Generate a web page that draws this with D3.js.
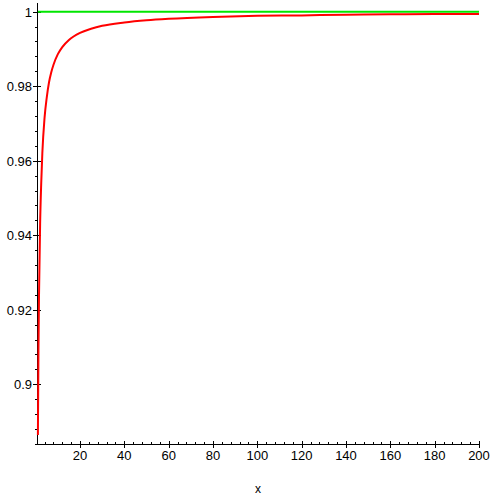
<!DOCTYPE html>
<html>
<head>
<meta charset="utf-8">
<script src="https://cdn.jsdelivr.net/npm/d3@7"></script>
<style>
  body { margin: 0; background: #fff; }
  svg { display: block; }
  text { font-family: "Liberation Sans", Arial, sans-serif; fill: #000; }
</style>
</head>
<body>
<div id="chart"></div>
<script>
// values
const curveX = [1, 1.25, 1.5, 2, 2.5, 3, 4, 5, 6, 7, 8, 10, 12, 15, 20, 25, 30, 40, 50, 60, 80, 100, 120, 140, 160, 180, 200];
const curveY = [0.8864, 0.909, 0.924, 0.943, 0.954, 0.962, 0.9715, 0.977, 0.981, 0.9837, 0.9857, 0.9886, 0.9905, 0.9924, 0.9943,
                0.9954, 0.9962, 0.9971, 0.9977, 0.9981, 0.9986, 0.9989, 0.9990, 0.9992, 0.9993, 0.9994, 0.9994];
const limitX = [1, 200];
const limitY = [1, 1];
const xTicks = [20, 40, 60, 80, 100, 120, 140, 160, 180, 200];
const yTicks = [0.9, 0.92, 0.94, 0.96, 0.98, 1];
const xLabel = "x";

const width = 497, height = 497;

const svg = d3.select("#chart").append("svg")
    .attr("width", width)
    .attr("height", height);

const x = d3.scaleLinear().domain([1, 200]).range([37.9, 479]);
const y = d3.scaleLinear().domain([0.88379, 1.00233]).range([444.7, 3]);

// minor ticks
const xMinor = d3.range(4, 201, 4).filter(v => v % 20 !== 0);
const yMinor = d3.range(0, 30).map(i => +(0.884 + i * 0.004).toFixed(3))
    .filter(v => v <= 1.002 && Math.abs(v * 50 - Math.round(v * 50)) > 1e-6);

const axisG = svg.append("g").attr("stroke", "#000").attr("stroke-width", 1).attr("shape-rendering", "crispEdges");

// axis lines
axisG.append("line")
    .attr("x1", x(1)).attr("x2", x(200))
    .attr("y1", 444.5).attr("y2", 444.5);
axisG.append("line")
    .attr("x1", 37.5).attr("x2", 37.5)
    .attr("y1", 3).attr("y2", 444.5);

// x ticks
axisG.selectAll(".xmaj").data(xTicks).enter().append("line")
    .attr("x1", d => Math.round(x(d)) + 0.5).attr("x2", d => Math.round(x(d)) + 0.5)
    .attr("y1", 440.5).attr("y2", 447.5);
axisG.selectAll(".xmin").data(xMinor).enter().append("line")
    .attr("x1", d => Math.round(x(d)) + 0.5).attr("x2", d => Math.round(x(d)) + 0.5)
    .attr("y1", 442).attr("y2", 444.5);

// y ticks
axisG.selectAll(".ymaj").data(yTicks).enter().append("line")
    .attr("x1", 33).attr("x2", 41)
    .attr("y1", d => Math.round(y(d)) + 0.5).attr("y2", d => Math.round(y(d)) + 0.5);
axisG.selectAll(".ymin").data(yMinor).enter().append("line")
    .attr("x1", 34.5).attr("x2", 37.5)
    .attr("y1", d => Math.round(y(d)) + 0.5).attr("y2", d => Math.round(y(d)) + 0.5);

// tick labels
svg.selectAll(".xlab").data(xTicks).enter().append("text")
    .attr("x", d => x(d))
    .attr("y", 460)
    .attr("text-anchor", "middle")
    .attr("font-size", 13)
    .text(d => d);

svg.selectAll(".ylab").data(yTicks).enter().append("text")
    .attr("x", 32)
    .attr("y", d => y(d) + 5)
    .attr("text-anchor", "end")
    .attr("font-size", 13)
    .text(d => d);

svg.append("text")
    .attr("x", 258)
    .attr("y", 493)
    .attr("text-anchor", "middle")
    .attr("font-size", 12)
    .text(xLabel);

// lines
const line = d3.line()
    .x(d => x(d[0]))
    .y(d => y(d[1]))
    .curve(d3.curveMonotoneX);

svg.append("path")
    .datum(d3.zip(limitX, limitY))
    .attr("fill", "none")
    .attr("stroke", "#00e600")
    .attr("stroke-width", 2)
    .attr("d", line);

svg.append("path")
    .datum(d3.zip(curveX, curveY))
    .attr("fill", "none")
    .attr("stroke", "#ff0000")
    .attr("stroke-width", 2)
    .attr("d", line);
</script>
</body>
</html>
